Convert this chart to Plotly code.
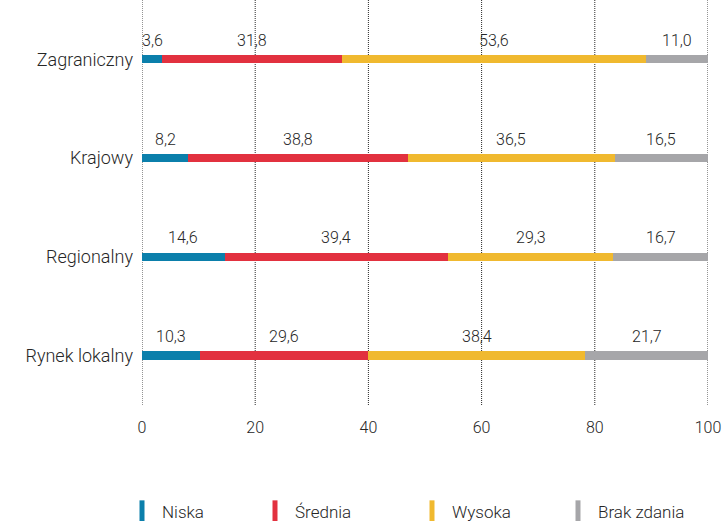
import plotly.graph_objects as go

categories = ["Rynek lokalny", "Regionalny", "Krajowy", "Zagraniczny"]
series_names = ["Niska", "Średnia", "Wysoka", "Brak zdania"]
niska = [10.3, 14.6, 8.2, 3.6]
srednia = [29.6, 39.4, 38.8, 31.8]
wysoka = [38.4, 29.3, 36.5, 53.6]
brak = [21.7, 16.7, 16.5, 11.0]
colors = ["#0b7fab", "#e2313f", "#f0b92f", "#a6a6a9"]
x_ticks = [0, 20, 40, 60, 80, 100]

FONT = "Roboto"
TXT = "#262626"
legend_left_px = [122, 255, 412, 558]

fig = go.Figure()
all_series = [niska, srednia, wysoka, brak]
for name, vals, col in zip(series_names, all_series, colors):
    fig.add_trace(go.Bar(y=categories, x=vals, orientation="h", name=name,
                         marker=dict(color=col, line=dict(width=0)),
                         width=0.085, showlegend=False))
legend_ids = ["legend", "legend2", "legend3", "legend4"]
for name, col, lid in zip(series_names, colors, legend_ids):
    # legend proxy
    fig.add_trace(go.Scatter(x=[None], y=[None], mode="markers", name=name,
                             legend=lid,
                             marker=dict(symbol="line-ns", size=16,
                                         line=dict(color=col, width=6))))

# gridlines (dotted, spanning full plot height)
for t in x_ticks:
    fig.add_shape(type="line", xref="x", yref="paper", x0=t, x1=t, y0=0, y1=1,
                  line=dict(color="#2a2a2a", width=1, dash="1px,1px"), layer="below")

# value labels above segments
for i, cat in enumerate(categories):
    cum = 0
    for vals in all_series:
        v = vals[i]
        fig.add_annotation(x=cum + v / 2, y=cat, text=f"{v:.1f}".replace(".", ","),
                           showarrow=False, yshift=19,
                           font=dict(family=FONT, size=16, color=TXT, weight=300))
        cum += v

legend_style = {}
for lid, lx in zip(legend_ids, legend_left_px):
    legend_style[lid] = dict(orientation="h", xref="container", x=lx / 725, xanchor="left",
                             yref="container", y=1 - 512 / 521, yanchor="middle",
                             font=dict(size=17, color=TXT, weight=300), itemwidth=30,
                             bgcolor="rgba(0,0,0,0)")

fig.update_layout(
    width=725, height=521,
    barmode="stack",
    plot_bgcolor="white", paper_bgcolor="white",
    margin=dict(l=142, r=17, t=0, b=116, autoexpand=False),
    font=dict(family=FONT, size=16, color=TXT, weight=300),
    xaxis=dict(range=[0, 100], tickvals=x_ticks, showgrid=False,
               zeroline=False, showline=False, ticks="",
               tickfont=dict(size=16, color=TXT, weight=300), ticklabelstandoff=11),
    yaxis=dict(range=[-0.5, 3.6], showgrid=False, zeroline=False,
               ticks="", ticklabelstandoff=8,
               tickfont=dict(size=18, color=TXT, weight=300)),
    **legend_style,
)

fig.write_html("out.html")
